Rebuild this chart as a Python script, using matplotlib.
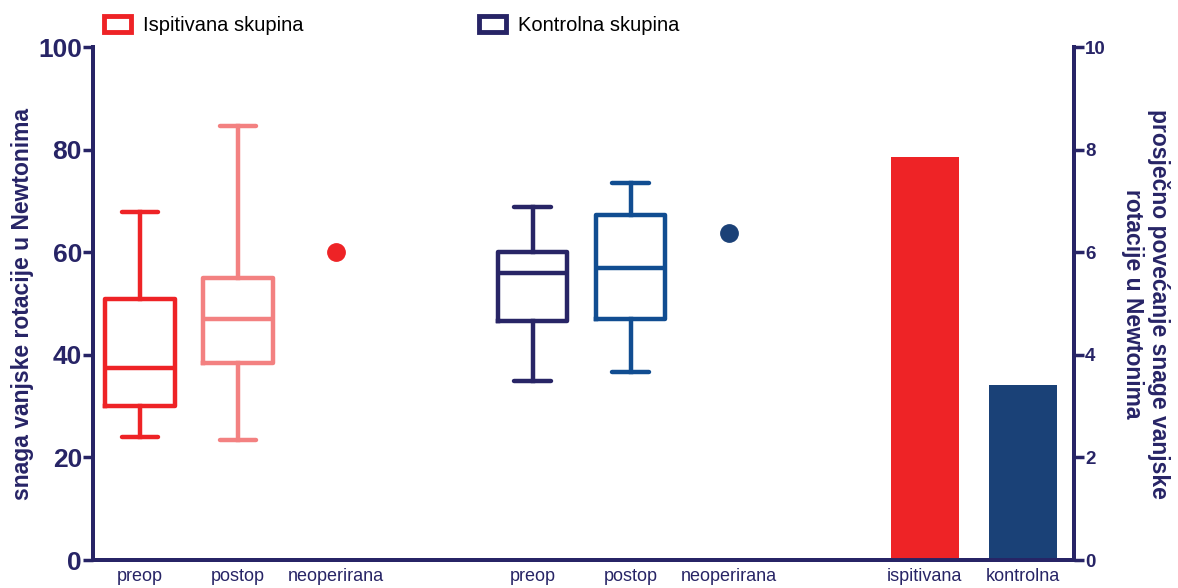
import matplotlib
matplotlib.use('Agg')
import matplotlib.pyplot as plt
from matplotlib.patches import Patch

plt.rcParams['font.family'] = ['Liberation Sans', 'DejaVu Sans']

# kategorije na x osi
kategorije = ['preop', 'postop', 'neoperirana', 'preop', 'postop', 'neoperirana', 'ispitivana', 'kontrolna']
pozicije = [0, 1, 2, 4, 5, 6, 8, 9]

# box plot vrijednosti (donji brk, Q1, medijan, Q3, gornji brk)
box_poz = [0, 1, 4, 5]
whislo = [24.0, 23.4, 34.9, 36.6]
q1 = [30.0, 38.4, 46.6, 47.0]
med = [37.4, 47.0, 56.0, 56.9]
q3 = [50.9, 55.0, 60.0, 67.3]
whishi = [67.8, 84.6, 68.8, 73.5]
box_boje = ['#ee2326', '#f38181', '#282566', '#114d91']

# neoperirana strana
neop_poz = [2, 6]
neop = [60.0, 63.7]
neop_boje = ['#ee2326', '#1b4177']

# prosjecno povecanje (desna os)
bar_poz = [8, 9]
povecanje = [7.86, 3.41]
bar_boje = ['#ee2326', '#1a4177']

navy = '#272466'

fig = plt.figure(figsize=(11.78, 5.88), dpi=100)
ax = fig.add_axes([0.079, 0.0476, 0.8327, 0.8724])

for i in range(len(box_poz)):
    st = [dict(whislo=whislo[i], q1=q1[i], med=med[i], q3=q3[i], whishi=whishi[i], fliers=[])]
    c = box_boje[i]
    ax.bxp(st, positions=[box_poz[i]], widths=0.71, capwidths=0.37, showfliers=False,
           boxprops=dict(color=c, linewidth=3.2),
           whiskerprops=dict(color=c, linewidth=3.2),
           capprops=dict(color=c, linewidth=3.2, solid_capstyle='round'),
           medianprops=dict(color=c, linewidth=3.2),
           manage_ticks=False)

for x, y, c in zip(neop_poz, neop, neop_boje):
    ax.plot(x, y, 'o', color=c, markersize=12.5, zorder=5)

ax.set_xlim(-0.48, 9.52)
ax.set_ylim(0, 100)
ax.set_yticks([0, 20, 40, 60, 80, 100])
ax.set_xticks(pozicije)
ax.set_xticklabels(kategorije, fontsize=13, color=navy)
ax.tick_params(axis='x', length=0, pad=6)
ax.tick_params(axis='y', length=7, width=2.5, color=navy, labelcolor=navy, labelsize=19, pad=1)
for t in ax.get_yticklabels():
    t.set_fontweight('bold')
ax.spines['top'].set_visible(False)
for s in ['left', 'bottom', 'right']:
    ax.spines[s].set_linewidth(2.8)
    ax.spines[s].set_color(navy)
ax.set_ylabel('snaga vanjske rotacije u Newtonima', fontsize=16.5, fontweight='bold', color=navy, labelpad=3)

ax2 = ax.twinx()
ax2.bar(bar_poz, povecanje, width=0.69, color=bar_boje)
ax2.set_ylim(0, 10)
ax2.set_yticks([0, 2, 4, 6, 8, 10])
ax2.tick_params(axis='y', length=7, width=2.5, color=navy, labelcolor=navy, labelsize=13.5, pad=1)
for t in ax2.get_yticklabels():
    t.set_fontweight('bold')
ax2.spines['top'].set_visible(False)
for s in ['left', 'bottom', 'right']:
    ax2.spines[s].set_linewidth(2.8)
    ax2.spines[s].set_color(navy)
ax2.set_ylabel('prosječno povećanje snage vanjske\nrotacije u Newtonima', fontsize=16.5, fontweight='bold',
               color=navy, rotation=270, labelpad=46, linespacing=1.15)

handles = [Patch(facecolor='white', edgecolor='#ee2326', linewidth=3.5),
           Patch(facecolor='white', edgecolor=navy, linewidth=3.5)]
fig.legend(handles, ['Ispitivana skupina', 'Kontrolna skupina'], loc='upper left',
           bbox_to_anchor=(0.073, 1.003), ncol=2, frameon=False, fontsize=14.5,
           handlelength=1.35, handleheight=0.85, handletextpad=0.6, columnspacing=8.7)

plt.savefig('out.png', dpi=100)
